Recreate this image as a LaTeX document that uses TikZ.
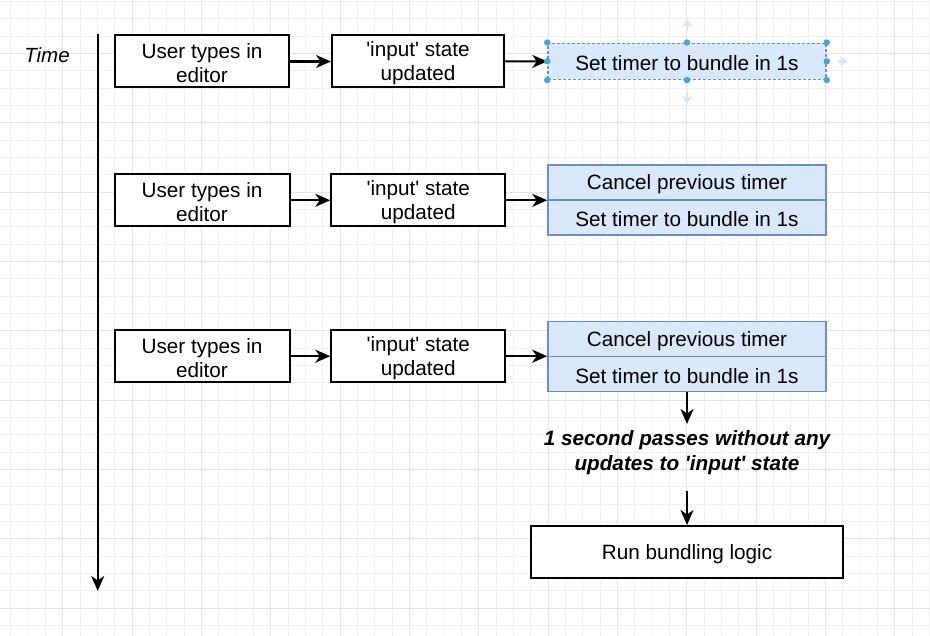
\documentclass[tikz,border=0pt]{standalone}
\usepackage{fontspec}
\setmainfont{Liberation Sans}
\usetikzlibrary{arrows.meta}
\definecolor{bluefill}{HTML}{DAE8FC}
\definecolor{bluedraw}{HTML}{6C8EBF}
\definecolor{gridminor}{HTML}{F0F0F0}
\definecolor{gridmajor}{HTML}{E3E3E3}
\definecolor{handle}{HTML}{4AA3DF}
\definecolor{hint}{HTML}{D3E8F7}
\newcommand{\tup}{\rule{0pt}{18.5pt}}
\newcommand{\sq}{\textquotesingle}
\tikzset{
  box/.style={draw=black, line width=2pt, fill=white, align=center, inner sep=0pt,
    font=\fontsize{20.7}{24}\selectfont},
  bluebox/.style={draw=bluedraw, line width=1.5pt, fill=bluefill, align=center, inner sep=0pt,
    minimum width=278pt, minimum height=35pt, font=\fontsize{20.7}{24}\selectfont},
  conn/.style={line width=2.1pt, -{Stealth[length=15pt,width=13pt,inset=4.5pt]}},
  hnd/.style={circle, fill=handle, inner sep=0pt, minimum size=6.5pt},
  hintarrow/.style={line width=2.5pt, draw=hint, -{Stealth[length=8pt,width=10pt,inset=2pt]}}
}
\begin{document}
\begin{tikzpicture}[x=1pt,y=-1pt]
\useasboundingbox (0,0) rectangle (930,636);
\fill[white] (0,0) rectangle (930,636);
% grid
\foreach \i in {0,...,53} {
  \pgfmathsetmacro{\gx}{62.67+17.333*(\i-3)}
  \draw[gridminor, line width=0.8pt] (\gx,0) -- (\gx,636);
}
\foreach \i in {0,...,36} {
  \pgfmathsetmacro{\gy}{1.33+17.333*\i}
  \draw[gridminor, line width=0.8pt] (0,\gy) -- (930,\gy);
}
\foreach \i in {0,...,13} {
  \pgfmathsetmacro{\gx}{62.67+69.333*(\i-1)}
  \draw[gridmajor, line width=0.8pt] (\gx,0) -- (\gx,636);
}
\foreach \i in {0,...,9} {
  \pgfmathsetmacro{\gy}{53.33+69.333*(\i-1)}
  \draw[gridmajor, line width=0.8pt] (0,\gy) -- (930,\gy);
}

% time axis
\node[font=\itshape\fontsize{20.5}{24}\selectfont] (time) at (47,55) {Time};
\coordinate (t0) at (97.7,34);
\coordinate (t1) at (97.7,591);
\draw[conn] (t0) -- (t1);

% row 1
\node[box, minimum width=174pt, minimum height=52pt] (a1) at (202,61.5) {\tup User types in\\editor};
\node[box, minimum width=172pt, minimum height=52pt] (b1) at (418,61.5) {\tup\sq input\sq\ state\\updated};
\node[bluebox, minimum height=36pt, draw=bluedraw, dashed, dash pattern=on 3pt off 2pt] (c1) at (687,61.3) {\tup Set timer to bundle in 1s};
\draw[conn] (a1) -- (b1);
\draw[conn] (b1) -- (c1);
% selection handles
\coordinate (h3) at (838,61.3);
\coordinate (h4) at (848,61.3);
\coordinate (h5) at (687,19);
\coordinate (h6) at (687,104);
\draw[hintarrow] (c1.north) ++(0,-12) coordinate (hn0) -- (h5);
\draw[hintarrow] (c1.south) ++(0,12) coordinate (hs0) -- (h6);
\draw[hintarrow] (h3) -- (h4);
\foreach \p in {north west,north,north east,east,south east,south,south west,west}
  \node[hnd] at (c1.\p) {};

% row 2
\node[box, minimum width=175pt, minimum height=52pt] (a2) at (202,200.3) {\tup User types in\\editor};
\node[box, minimum width=174pt, minimum height=52pt] (b2) at (418.3,200.3) {\tup\sq input\sq\ state\\updated};
\node[bluebox] (c2t) at (687,182.5) {\tup Cancel previous timer};
\node[bluebox] (c2b) at (687,217.5) {\tup Set timer to bundle in 1s};
\draw[conn] (a2) -- (b2);
\draw[conn] (b2) -- (b2 -| c2t.west);

% row 3
\node[box, minimum width=175pt, minimum height=52pt] (a3) at (202,356.2) {\tup User types in\\editor};
\node[box, minimum width=174pt, minimum height=52pt] (b3) at (418.3,356.2) {\tup\sq input\sq\ state\\updated};
\node[bluebox] (c3t) at (687,339.2) {\tup Cancel previous timer};
\node[bluebox] (c3b) at (687,374) {\tup Set timer to bundle in 1s};
\draw[conn] (a3) -- (b3);
\draw[conn] (b3) -- (b3 -| c3t.west);

% wait text
\node[align=center, inner sep=0pt, font=\bfseries\itshape\fontsize{20.7}{25}\selectfont] (wait) at (687,451) {\tup 1 second passes without any\\updates to \sq input\sq\ state};
\coordinate (w0) at (687,424);
\coordinate (w1) at (687,491);
\draw[conn] (c3b.south) -- (w0);
\node[box, minimum width=312pt, minimum height=52pt] (run) at (687,552) {\tup Run bundling logic};
\draw[conn] (w1) -- (run.north);
\end{tikzpicture}
\end{document}
